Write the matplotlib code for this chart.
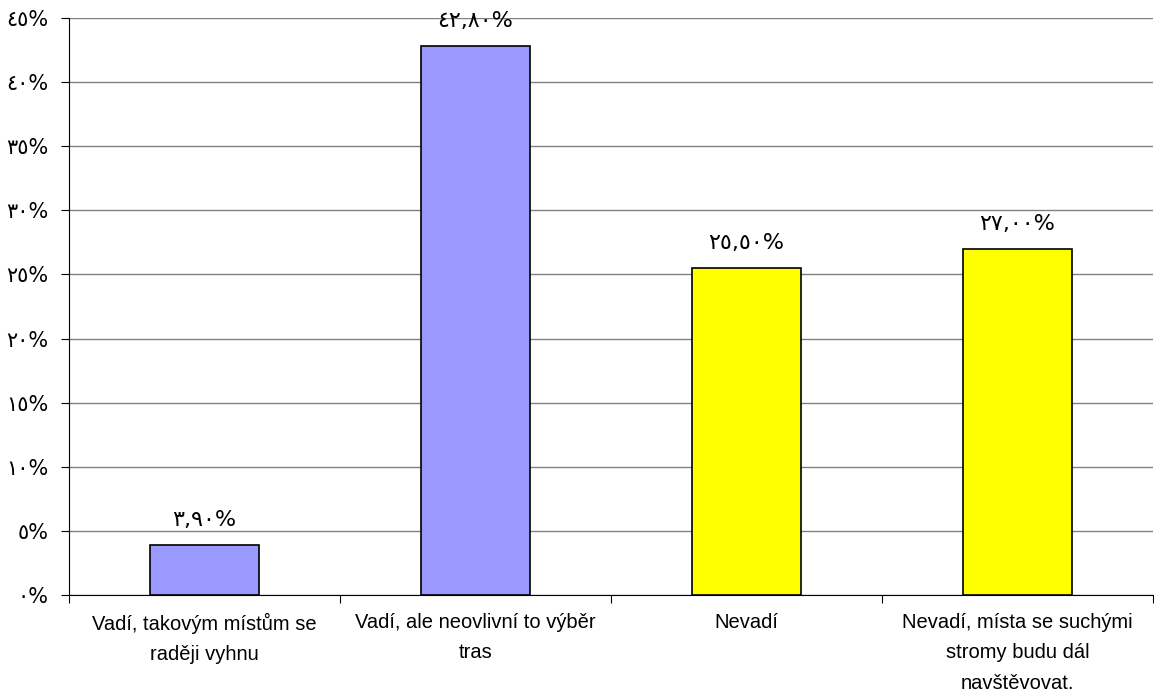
import matplotlib
matplotlib.use("Agg")
from matplotlib import pyplot as plt

# data
categories = ["Vadí, takovým místům se\nraději vyhnu",
              "Vadí, ale neovlivní to výběr\ntras",
              "Nevadí",
              "Nevadí, místa se suchými\nstromy budu dál\nnavštěvovat."]
values = [3.9, 42.8, 25.5, 27.0]
value_labels = ["٣,٩٠%", "٤٢,٨٠%", "٢٥,٥٠%", "٢٧,٠٠%"]
colors = ["#9999FF", "#9999FF", "#FFFF00", "#FFFF00"]
yticks = [0, 5, 10, 15, 20, 25, 30, 35, 40, 45]
ytick_labels = ["٠%", "٥%", "١٠%", "١٥%", "٢٠%", "٢٥%", "٣٠%", "٣٥%", "٤٠%", "٤٥%"]

plt.rcParams['font.family'] = ['Liberation Sans', 'DejaVu Sans']

fig = plt.figure(figsize=(11.54, 6.97), dpi=100)
ax = fig.add_axes([69/1154, 102/697, 1084/1154, 577/697])

x = list(range(len(values)))
ax.bar(x, values, width=0.4, color=colors, edgecolor='black', linewidth=1.2, zorder=3)

for xi, v, lab in zip(x, values, value_labels):
    ax.annotate(lab, (xi, v), xytext=(0, 18), textcoords='offset points',
                ha='center', va='center', fontsize=16, family=['DejaVu Sans'])

ax.set_xlim(-0.5, 3.5)
ax.set_ylim(0, 45)
ax.set_yticks(yticks)
ax.set_yticklabels(ytick_labels, family=['DejaVu Sans'], fontsize=15)
ax.yaxis.grid(True, color='#808080', linewidth=1.0, zorder=0)

ax.set_xticks([-0.5, 0.5, 1.5, 2.5, 3.5])
ax.set_xticklabels([])
ax.set_xticks(x, minor=True)
ax.set_xticklabels(categories, minor=True, fontsize=14.5, linespacing=1.75)
ax.tick_params(axis='x', which='minor', length=0, pad=13)
ax.tick_params(axis='x', which='major', length=6, direction='out')
ax.tick_params(axis='y', length=6, direction='out', pad=9)

for s in ['top', 'right']:
    ax.spines[s].set_visible(False)
ax.spines['left'].set_color('black')
ax.spines['bottom'].set_color('black')

plt.savefig('out.png', dpi=100)
